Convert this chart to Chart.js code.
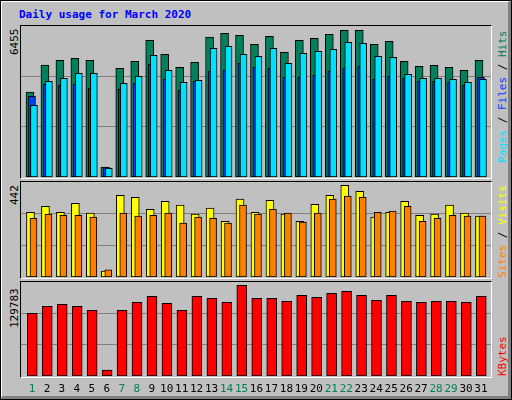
<!DOCTYPE html>
<html><head><meta charset="utf-8">
<script src="https://cdn.jsdelivr.net/npm/chart.js@4"></script>
<style>
body{margin:0;background:#fff}
#wrap{position:relative;width:510px;height:398px;background:#c0c0c0;border:1px solid #000;overflow:hidden;font-family:"DejaVu Sans Mono",monospace}
#wrap:after{content:"";position:absolute;right:0;bottom:0;left:0;top:0;border-right:3px solid #808080;border-bottom:3px solid #808080;border-left:1px solid #fff;border-top:1px solid #fff;pointer-events:none}
.frame{position:absolute;left:19px;width:472px;border-top:1px solid #000;border-left:1px solid #000;border-right:1px solid #fff;border-bottom:1px solid #fff;box-sizing:border-box}
canvas{position:absolute;left:20px}
.t{position:absolute;font-size:11px;white-space:nowrap;transform-origin:0 0;transform:rotate(-90deg)}
#title{position:absolute;left:18px;top:7px;font-size:11px;font-weight:bold;color:#0000ff}
</style></head><body>
<div id="wrap">
<div id="title">Daily usage for March 2020</div>
<div class="frame" style="top:24px;height:154px"></div>
<div class="frame" style="top:180px;height:98px"></div>
<div class="frame" style="top:280px;height:97px"></div>
<canvas id="c1" width="470" height="151" style="top:25px;width:470px;height:151px"></canvas>
<canvas id="c2" width="470" height="95" style="top:181px;width:470px;height:95px"></canvas>
<canvas id="c3" width="470" height="118" style="top:281px;width:470px;height:118px"></canvas>
<div class="t" style="left:7px;top:54px">6455</div>
<div class="t" style="left:7px;top:204px">442</div>
<div class="t" style="left:7px;top:327px">129783</div>
<div class="t" style="left:495px;top:162px"><span style="color:#00e0ff">Pages</span> / <span style="color:#0040ff">Files</span> / <span style="color:#00805c">Hits</span></div>
<div class="t" style="left:495px;top:277px"><span style="color:#ff8000">Sites</span> / <span style="color:#ffff00">Visits</span></div>
<div class="t" style="left:495px;top:375px"><span style="color:#ff0000">KBytes</span></div>
</div>
<script>
const days=[1,2,3,4,5,6,7,8,9,10,11,12,13,14,15,16,17,18,19,20,21,22,23,24,25,26,27,28,29,30,31];
const weekend=[1,7,8,14,15,21,22,28,29];
const hits=[3658,4819,5020,5106,5020,430,4676,4977,5881,5279,4719,4934,6025,6182,6096,5709,6053,5365,5881,5967,6139,6311,6311,5709,5838,4977,4762,4805,4719,4590,5020];
const files=[3471,3988,3945,3988,3816,402,3772,4031,4848,4203,3729,4117,4547,4590,4891,4719,4676,4289,4289,4375,4547,4676,4762,4203,4332,4246,4117,4117,4074,3945,4289];
const pages=[3084,4117,4246,4461,4461,373,4031,4332,5236,4590,4074,4160,5537,5623,5279,5193,5537,4891,5322,5408,5494,5795,5752,5193,5150,4418,4246,4246,4203,4074,4203];
const visits=[302,330,302,344,298,28,381,372,316,353,335,293,321,260,363,302,358,293,260,339,381,428,400,279,302,353,288,293,335,298,284];
const sites=[274,293,288,288,279,33,298,284,288,298,251,279,274,251,335,293,316,298,256,298,363,377,372,302,307,330,260,274,288,284,284];
const kbytes=[89775,99750,102600,99750,94050,8550,94050,105450,114000,104025,94050,114000,111150,105450,129675,111150,111150,106875,115425,112575,118275,121125,115425,108300,115425,106875,105450,106875,106875,105450,114000];

const SLOT=15;
function ds(vals,off,color,w,order){
  return {data:vals.map((v,i)=>({x:days[i]+off/SLOT,y:v})),backgroundColor:color,borderColor:'#000',borderWidth:1,
    barThickness:w,order:order,grouped:false,borderSkipped:false};
}
function opts(max,bottomPad){
  return {responsive:false,animation:false,devicePixelRatio:1,
    layout:{padding:{left:0,right:0,top:0,bottom:bottomPad||0}},
    plugins:{legend:{display:false},tooltip:{enabled:false}},
    scales:{
      x:{type:'linear',min:0.267,max:31.67,offset:false,display:false},
      y:{min:0,max:max,border:{display:false},ticks:{display:false},
         grid:{color:'#808080',drawTicks:false,lineWidth:1},
         afterBuildTicks:s=>{s.ticks=[{value:max/3},{value:2*max/3}];}}
    }};
}
new Chart(document.getElementById('c1'),{type:'bar',data:{datasets:[
  ds(hits,-2,'#00805c',8,3),ds(files,0,'#0040ff',7,2),ds(pages,2,'#00e0ff',7,1)]},options:opts(6498)});
new Chart(document.getElementById('c2'),{type:'bar',data:{datasets:[
  ds(visits,-1.5,'#ffff00',8,2),ds(sites,1.5,'#ff8000',7,1)]},options:opts(443)});
const dayLabels={id:'dl',afterDraw(c){
  const ctx=c.ctx,xs=c.scales.x;ctx.save();ctx.font='11px "DejaVu Sans Mono"';ctx.textAlign='center';ctx.textBaseline='middle';
  days.forEach(d=>{ctx.fillStyle=weekend.includes(d)?'#00805c':'#000';ctx.fillText(String(d),xs.getPixelForValue(d),107);});
  ctx.restore();}};
new Chart(document.getElementById('c3'),{type:'bar',data:{datasets:[
  ds(kbytes,0.3,'#ff0000',10,1)]},options:opts(134425,24),plugins:[dayLabels]});
</script>
</body></html>
